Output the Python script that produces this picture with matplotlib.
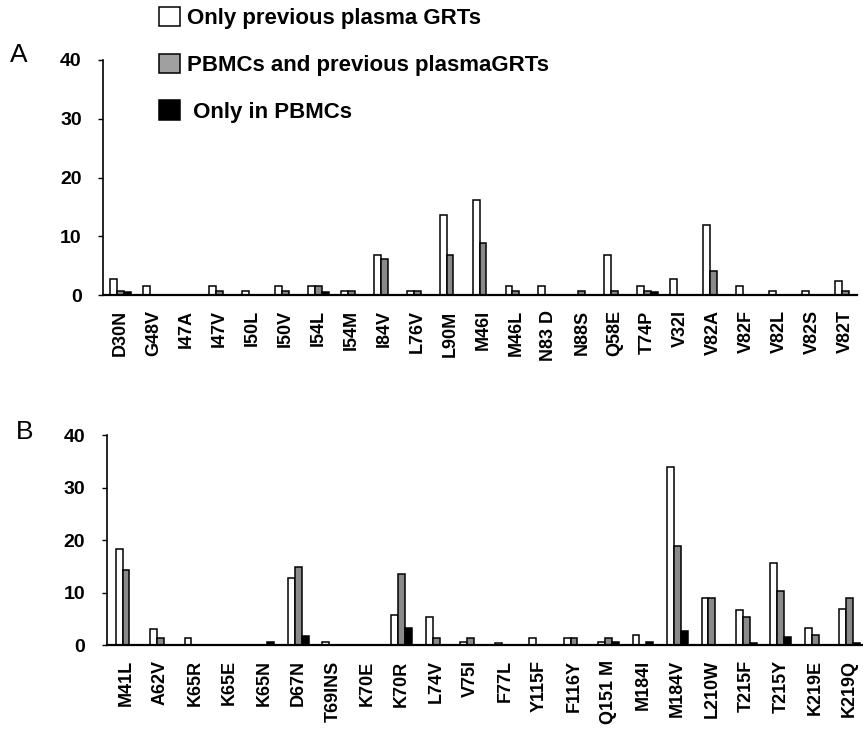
import matplotlib
matplotlib.use("Agg")
import matplotlib.pyplot as plt
import numpy as np

plt.rcParams['font.family'] = ['Liberation Sans', 'DejaVu Sans']

# Series labels
SERIES = ["Only previous plasma GRTs", "PBMCs and previous plasmaGRTs", " Only in PBMCs"]
FILLS = ["white", "#8a8a8a", "black"]

# Panel A: protease mutations
mut_a = ["D30N", "G48V", "I47A", "I47V", "I50L", "I50V", "I54L", "I54M", "I84V",
         "L76V", "L90M", "M46I", "M46L", "N83 D", "N88S", "Q58E", "T74P", "V32I",
         "V82A", "V82F", "V82L", "V82S", "V82T"]
plasma_a = [2.8, 1.6, 0, 1.6, 0.7, 1.6, 1.6, 0.7, 6.8, 0.7, 13.6, 16.1, 1.5, 1.5,
            0, 6.8, 1.5, 2.8, 12.0, 1.5, 0.7, 0.7, 2.3]
both_a = [0.7, 0, 0, 0.7, 0, 0.7, 1.6, 0.7, 6.1, 0.7, 6.8, 8.8, 0.7, 0,
          0.7, 0.7, 0.7, 0, 4.1, 0, 0, 0, 0.7]
pbmc_a = [0.5, 0, 0, 0, 0, 0, 0.5, 0, 0, 0, 0, 0, 0, 0,
          0, 0, 0.5, 0, 0, 0, 0, 0, 0]

# Panel B: reverse transcriptase mutations
mut_b = ["M41L", "A62V", "K65R", "K65E", "K65N", "D67N", "T69INS", "K70E", "K70R",
         "L74V", "V75I", "F77L", "Y115F", "F116Y", "Q151 M", "M184I", "M184V",
         "L210W", "T215F", "T215Y", "K219E", "K219Q"]
plasma_b = [18.2, 3.0, 1.3, 0, 0, 12.7, 0.5, 0, 5.8, 5.3, 0.5, 0.4, 1.3, 1.3,
            0.5, 1.9, 34.0, 8.9, 6.7, 15.6, 3.2, 6.8]
both_b = [14.2, 1.4, 0, 0, 0, 14.8, 0, 0, 13.5, 1.3, 1.3, 0, 0, 1.3,
          1.3, 0, 18.9, 8.9, 5.4, 10.2, 1.9, 8.9]
pbmc_b = [0, 0, 0, 0, 0.5, 1.7, 0, 0, 3.2, 0, 0, 0, 0, 0,
          0.5, 0.5, 2.7, 0, 0.4, 1.5, 0, 0.4]


def panel(ax, labels, series, width, xlim):
    x = np.arange(len(labels))
    bars = []
    for k, (vals, fc) in enumerate(zip(series, FILLS)):
        b = ax.bar(x + (k - 1) * width, vals, width, color=fc,
                   edgecolor="black", linewidth=1.1, label=SERIES[k])
        bars.append(b)
    ax.set_ylim(0, 40)
    ax.set_xlim(*xlim)
    ax.set_yticks([0, 10, 20, 30, 40])
    ax.set_xticks(x)
    ax.set_xticklabels(labels, rotation=90, fontsize=13, fontweight="bold",
                       ha="center", va="top")
    ax.tick_params(axis="x", length=0, pad=11)
    ax.tick_params(axis="y", length=3.6, width=1.0, pad=12, labelsize=14)
    for t in ax.get_yticklabels():
        t.set_fontweight("bold")
    for s in ("top", "right"):
        ax.spines[s].set_visible(False)
    ax.spines["left"].set_linewidth(1.2)
    ax.spines["bottom"].set_linewidth(1.6)
    return bars


fig = plt.figure(figsize=(8.63, 7.48), dpi=100)
ax_a = fig.add_axes([0.1199, 0.6056, 0.873, 0.3142])
ax_b = fig.add_axes([0.124, 0.1377, 0.875, 0.2807])

bars = panel(ax_a, mut_a, [plasma_a, both_a, pbmc_a], 0.21, (-0.52, 22.35))
panel(ax_b, mut_b, [plasma_b, both_b, pbmc_b], 0.2, (-0.55, 21.36))

fig.text(10 / 863, 1 - 55 / 748, "A", fontsize=19, va="center", ha="left")
fig.text(16 / 863, 1 - 432 / 748, "B", fontsize=19, va="center", ha="left")

leg = fig.legend(handles=bars, labels=SERIES, loc="upper left",
                 bbox_to_anchor=(159 / 863, 1 - 7 / 748), frameon=False,
                 prop={"weight": "bold", "size": 16}, borderpad=0, borderaxespad=0,
                 handlelength=0.95, handleheight=0.95, handletextpad=0.3,
                 labelspacing=1.1)
# legend swatch for the middle series is drawn a touch lighter
leg.legend_handles[1].set_facecolor("#a0a0a0")

fig.savefig("out.png", dpi=100)
